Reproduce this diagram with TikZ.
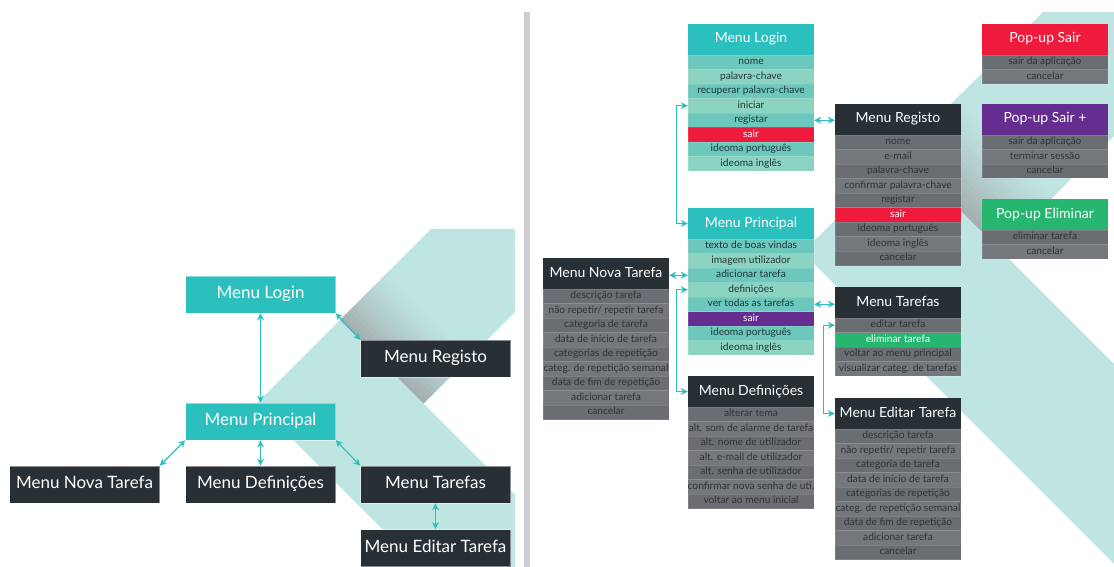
\documentclass[tikz,border=0pt]{standalone}
\usepackage{fontspec}
\setmainfont{Lato}
\usetikzlibrary{arrows.meta,calc}
\definecolor{tealhead}{HTML}{2BBFBE}
\definecolor{tealdark}{HTML}{6CC7BC}
\definecolor{teallight}{HTML}{8DD3C1}
\definecolor{slate}{HTML}{293035}
\definecolor{grayrowa}{HTML}{6A6D72}
\definecolor{grayrowb}{HTML}{74777C}
\definecolor{rowink}{HTML}{1F3838}
\definecolor{grayink}{HTML}{303437}
\definecolor{exitred}{HTML}{EE1B3C}
\definecolor{exitpurple}{HTML}{662D91}
\definecolor{okgreen}{HTML}{27B670}
\definecolor{bgteal}{HTML}{BFE5E3}
\definecolor{shadowgray}{HTML}{A2ACAD}
\definecolor{linkteal}{HTML}{2BBFBE}
\definecolor{divider}{HTML}{CDCDCD}
\tikzstyle{bigbox}=[minimum width=150pt, minimum height=37pt, inner sep=0pt, text height=12pt, text depth=3.5pt, font=\fontsize{17}{19}\selectfont, text=white, draw=white, draw opacity=0.45, line width=0.6pt]
\tikzstyle{menuhead}=[minimum width=126pt, minimum height=31pt, inner sep=0pt, text height=10pt, text depth=3pt, font=\fontsize{14}{16}\selectfont, text=white]
\tikzstyle{row}=[minimum width=126pt, minimum height=14.5pt, inner sep=0pt, text height=7pt, text depth=2pt, font=\fontsize{10.2}{11}\selectfont, draw=white, draw opacity=0.12, line width=0.4pt]
\tikzstyle{ta}=[fill=tealdark, text=rowink]
\tikzstyle{tb}=[fill=teallight, text=rowink]
\tikzstyle{ga}=[fill=grayrowa, text=grayink]
\tikzstyle{gb}=[fill=grayrowb, text=grayink]
\tikzstyle{redrow}=[fill=exitred, text=white]
\tikzstyle{purplerow}=[fill=exitpurple, text=white]
\tikzstyle{greenrow}=[fill=okgreen, text=white]
\tikzstyle{link}=[draw=linkteal, line width=1.1pt, arrows={Stealth[length=7pt,width=7pt]-Stealth[length=7pt,width=7pt]}]
\newcommand{\chevronband}[4]{% Syntax: {left edge x+y}{right edge x+y}{lower edge x-y}{upper edge x-y}
  \pgfmathsetmacro{\tipx}{(#1+#3)/2}
  \pgfmathsetmacro{\tipy}{(#1-#3)/2}
  \pgfmathsetmacro{\innx}{(#2+#4)/2}
  \pgfmathsetmacro{\inny}{(#2-#4)/2}
  \fill[bgteal] (\tipx,\tipy) -- ++(400,-400) -- ($(\innx,\inny)+(400,-400)$) -- (\innx,\inny)
    -- ++(400,400) -- ($(\tipx,\tipy)+(400,400)$) -- cycle;
}
\newcommand{\foldshadow}[5]{% Syntax: {x+y from}{x+y to}{x-y start}{depth}{steps}
  \foreach \k in {1,...,#5} {
    \pgfmathsetmacro{\stripa}{#3+(\k-1)*#4/#5}
    \pgfmathsetmacro{\stripb}{#3+\k*#4/#5+0.6}
    \pgfmathtruncatemacro{\shademix}{100*(1-(\k-0.5)/#5)^1.3}
    \fill[shadowgray!\shademix!bgteal] ({(#1+\stripa)/2},{(#1-\stripa)/2}) -- ({(#2+\stripa)/2},{(#2-\stripa)/2})
      -- ({(#2+\stripb)/2},{(#2-\stripb)/2}) -- ({(#1+\stripb)/2},{(#1-\stripb)/2}) -- cycle;
  }
}
\newcommand{\menubox}[6]{% Syntax: {name}{left x}{top y}{header colour}{title}{rows as text/style}
  \node[menuhead, fill=#4] (#1) at (#2+63,#3+15.5) {#5};
  \foreach [count=\i] \entry/\kind in {#6}
    \node[row, \kind] (#1-\i) at (#2+63,#3+31+\i*14.5-7.25) {\entry};
}

\begin{document}
\begin{tikzpicture}[x=1pt,y=-1pt]
\useasboundingbox (0,0) rectangle (1114,567);
% backgrounds
\begin{scope}
  \clip (0,229) rectangle (515,567);
  \chevronband{660}{827}{-147}{20}
  \foldshadow{660}{827}{20}{100}{16}
\end{scope}
\begin{scope}
  \clip (531,12.5) rectangle (1114,567);
  \chevronband{1055}{1250}{550}{750}
  \foldshadow{1055}{1250}{750}{115}{16}
\end{scope}
\fill[divider] (524,12.5) rectangle (529.5,567);

% overview
\node[bigbox, fill=tealhead] (llogin) at (260.5,294.5) {Menu Login};
\node[bigbox, fill=slate] (lregisto) at (435.5,358.5) {Menu Registo};
\node[bigbox, fill=tealhead] (lprincipal) at (260.5,421.5) {Menu Principal};
\node[bigbox, fill=slate] (lnova) at (84.5,484.5) {Menu Nova Tarefa};
\node[bigbox, fill=slate] (ldef) at (260.5,484.5) {Menu Definições};
\node[bigbox, fill=slate] (ltarefas) at (435.5,484.5) {Menu Tarefas};
\node[bigbox, fill=slate] (leditar) at (435.5,548) {Menu Editar Tarefa};
\draw[link] (llogin.south) -- (lprincipal.north);
\draw[link] (llogin.south east) -- (lregisto.north west);
\draw[link] (lprincipal.south west) -- (lnova.north east);
\draw[link] (lprincipal.south) -- (ldef.north);
\draw[link] (lprincipal.south east) -- (ltarefas.north west);
\draw[link] (ltarefas.south) -- (leditar.north);

% detailed menus
\menubox{rlogin}{688}{24}{tealhead}{Menu Login}{nome/ta, palavra-chave/tb, recuperar palavra-chave/ta, iniciar/tb, registar/ta, sair/redrow, ideoma português/ta, ideoma inglês/tb}
\menubox{rprincipal}{688}{208}{tealhead}{Menu Principal}{texto de boas vindas/ta, imagem utilizador/tb, adicionar tarefa/ta, definições/tb, ver todas as tarefas/ta, sair/purplerow, ideoma português/ta, ideoma inglês/tb}
\menubox{rnova}{543}{258}{slate}{Menu Nova Tarefa}{descrição tarefa/ga, {não repetir/ repetir tarefa}/gb, categoria de tarefa/ga, data de início de tarefa/gb, categorias de repetição/ga, categ. de repetição semanal/gb, data de fim de repetição/ga, adicionar tarefa/gb, cancelar/ga}
\menubox{rdef}{688}{376}{slate}{Menu Definições}{alterar tema/ga, alt. som de alarme de tarefa/gb, alt. nome de utilizador/ga, alt. e-mail de utilizador/gb, alt. senha de utilizador/ga, confirmar nova senha de uti./gb, voltar ao menu inicial/ga}
\menubox{rregisto}{835}{104}{slate}{Menu Registo}{nome/ga, e-mail/gb, palavra-chave/ga, confirmar palavra-chave/gb, registar/ga, sair/redrow, ideoma português/ga, ideoma inglês/gb, cancelar/ga}
\menubox{rtarefas}{835}{287}{slate}{Menu Tarefas}{editar tarefa/ga, eliminar tarefa/greenrow, voltar ao menu principal/ga, visualizar categ. de tarefas/gb}
\menubox{reditar}{835}{398}{slate}{Menu Editar Tarefa}{descrição tarefa/ga, {não repetir/ repetir tarefa}/gb, categoria de tarefa/ga, data de início de tarefa/gb, categorias de repetição/ga, categ. de repetição semanal/gb, data de fim de repetição/ga, adicionar tarefa/gb, cancelar/ga}
\menubox{psair}{982}{24}{exitred}{Pop-up Sair}{sair da aplicação/ga, cancelar/gb}
\menubox{psairplus}{982}{104}{exitpurple}{Pop-up Sair +}{sair da aplicação/ga, terminar sessão/gb, cancelar/ga}
\menubox{peliminar}{982}{199}{okgreen}{Pop-up Eliminar}{eliminar tarefa/ga, cancelar/gb}

\draw[link] (rlogin-5.east) -- (rlogin-5.east -| rregisto.west);
\draw[link] (rlogin-4.west) -- ++(-11,0) |- (rprincipal.west);
\draw[link] (rprincipal-3.west) -- (rprincipal-3.west -| rnova.east);
\draw[link] (rprincipal-4.west) -- ++(-11,0) |- (rdef.west);
\draw[link] (rprincipal-5.east) -- (rprincipal-5.east -| rtarefas.west);
\draw[link] (rtarefas-1.west) -- ++(-11,0) |- (reditar.west);
\end{tikzpicture}
\end{document}
